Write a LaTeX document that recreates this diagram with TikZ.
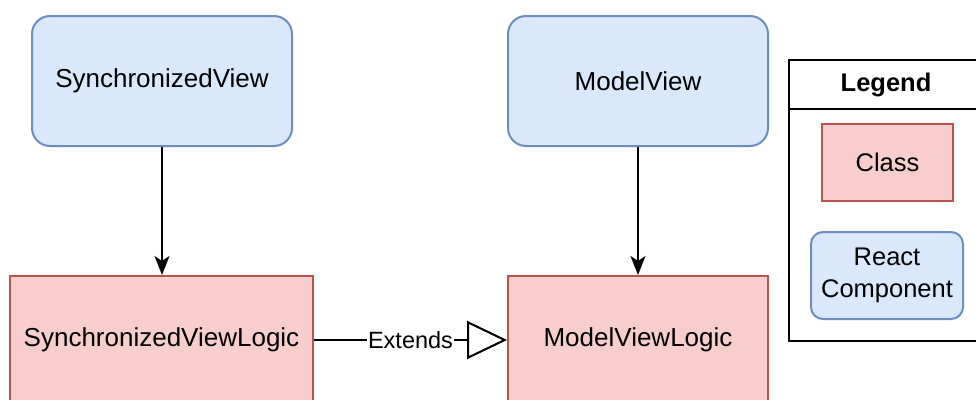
\documentclass[tikz,border=0pt]{standalone}
\usepackage{fontspec}
\setmainfont{Liberation Sans}
\usetikzlibrary{arrows.meta}
\definecolor{compfill}{HTML}{DAE8FC}
\definecolor{compline}{HTML}{6C8EBF}
\definecolor{classfill}{HTML}{F8CECC}
\definecolor{classline}{HTML}{B85450}
\tikzset{
  component/.style={draw=compline, fill=compfill, line width=2pt, rounded corners=18pt,
    minimum width=260pt, minimum height=130pt, font=\fontsize{26pt}{30pt}\selectfont, inner sep=0pt},
  classbox/.style={draw=classline, fill=classfill, line width=2pt,
    minimum height=128pt, font=\fontsize{26pt}{30pt}\selectfont, inner sep=0pt},
  uses/.style={line width=2pt, -{Stealth[length=19pt,width=15pt,inset=5pt]}},
  extends/.style={line width=2pt, -{Triangle[open,length=40pt,width=38pt,line width=2pt]}},
  legendtext/.style={font=\fontsize{25.5pt}{32pt}\selectfont},
}
\begin{document}
\begin{tikzpicture}[x=1pt,y=-1pt]
\useasboundingbox (0,0) rectangle (976,399);
\clip (0,0) rectangle (976,399);

% React components
\node[component] (sv) at (162,81) {SynchronizedView};
\node[component] (mv) at (638,81) {ModelView};

% Classes
\node[classbox, minimum width=303pt] (svl) at (161.5,340) {SynchronizedViewLogic};
\node[classbox, minimum width=260pt] (mvl) at (638,340) {ModelViewLogic};

% Connectors
\draw[uses] (sv.south) -- (sv.south |- svl.north);
\draw[uses] (mv.south) -- (mvl.north);
\draw[extends] (svl.east) -- node[fill=white, inner sep=1pt, font=\fontsize{23.5pt}{26pt}\selectfont, xshift=0pt] {Extends} (mvl.west);

% Legend
\node[draw, line width=2pt, minimum width=194pt, minimum height=281pt, inner sep=0pt] (legend) at (886,200) {};
\draw[line width=2pt] (790,109) coordinate (hl) -- (985,109) coordinate (hr);
\node[font=\bfseries\fontsize{25.5pt}{30pt}\selectfont] (legtitle) at (886,85) {Legend};
\node[draw=classline, fill=classfill, line width=2pt, minimum width=131pt, minimum height=77pt, inner sep=0pt, legendtext] (lclass) at (887.5,162.5) {Class};
\node[draw=compline, fill=compfill, line width=2pt, rounded corners=12pt, minimum width=152pt, minimum height=87pt, inner sep=0pt, align=center, legendtext] (lcomp) at (887,275.5) {React\\Component};
\end{tikzpicture}
\end{document}
